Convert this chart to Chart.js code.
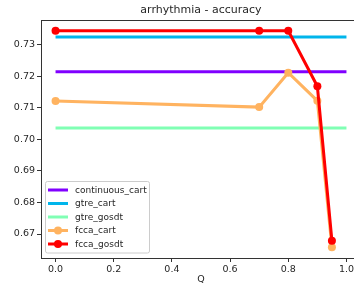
<!DOCTYPE html>
<html>
<head>
<meta charset="utf-8">
<script src="https://cdn.jsdelivr.net/npm/chart.js@4/dist/chart.umd.min.js"></script>
<style>
  html, body { margin: 0; padding: 0; background: #fff; overflow: hidden; }
  #wrap { width: 372px; height: 288px; }
</style>
</head>
<body>
<div id="wrap"><canvas id="chart" width="372" height="288"></canvas></div>
<script>
'use strict';

// ── Data ────────────────────────────────────────────────
const TITLE = 'arrhythmia - accuracy';
const X_LABEL = 'Q';

const xTicks = [0.0, 0.2, 0.4, 0.6, 0.8, 1.0];
const yTicks = [0.67, 0.68, 0.69, 0.70, 0.71, 0.72, 0.73];

// baselines (constant over Q)
const baseQ          = [0, 1];
const continuousCart = 0.7214;
const gtreCart       = 0.7324;
const gtreGosdt      = 0.7036;

// fcca runs
const fccaQ     = [0, 0.7, 0.8, 0.9, 0.95];
const fccaCart  = [0.7121, 0.7102, 0.7211, 0.7122, 0.6658];
const fccaGosdt = [0.7344, 0.7344, 0.7344, 0.7168, 0.6679];

const COLORS = {
  continuous_cart: '#8000ff',
  gtre_cart:       '#00b5eb',
  gtre_gosdt:      '#80ffb4',
  fcca_cart:       '#ffb360',
  fcca_gosdt:      '#ff0000',
};

const TEXT = '#262626';
const FONT = "'DejaVu Sans', sans-serif";

// ── Helpers ─────────────────────────────────────────────
function flat(label, v, order) {
  return {
    label,
    data: baseQ.map(q => ({ x: q, y: v })),
    borderColor: COLORS[label],
    backgroundColor: COLORS[label],
    borderWidth: 3,
    pointRadius: 0,
    showLine: true,
    order,
  };
}

function series(label, ys, order) {
  return {
    label,
    data: fccaQ.map((q, i) => ({ x: q, y: ys[i] })),
    borderColor: COLORS[label],
    backgroundColor: COLORS[label],
    pointBackgroundColor: COLORS[label],
    pointBorderColor: COLORS[label],
    borderWidth: 3,
    pointRadius: 4,
    pointBorderWidth: 0,
    showLine: true,
    order,
  };
}

// ── Title, axis label, top spine and in-plot legend ────
const decorPlugin = {
  id: 'decor',
  afterDraw(chart) {
    const { ctx, chartArea: a } = chart;
    const cx = (a.left + a.right) / 2;
    ctx.save();

    // top + right spines
    ctx.strokeStyle = '#333';
    ctx.lineWidth = 1;
    ctx.beginPath();
    ctx.moveTo(a.left, a.top + 0.5);
    ctx.lineTo(a.right + 0.5, a.top + 0.5);
    ctx.lineTo(a.right + 0.5, a.bottom);
    ctx.stroke();

    ctx.fillStyle = TEXT;
    ctx.textAlign = 'center';
    ctx.textBaseline = 'middle';
    ctx.font = '11px ' + FONT;
    ctx.fillText(TITLE, cx, 10);
    ctx.font = '9.5px ' + FONT;
    ctx.fillText(X_LABEL, cx, 280);

    // legend box
    const bx = 45.5, by = 181.5, bw = 104, bh = 71.5;
    ctx.fillStyle = 'rgba(255,255,255,0.8)';
    ctx.strokeStyle = '#cccccc';
    ctx.lineWidth = 1;
    ctx.beginPath();
    ctx.roundRect(bx, by, bw, bh, 2);
    ctx.fill();
    ctx.stroke();

    ctx.font = '9px ' + FONT;
    ctx.textAlign = 'left';
    chart.data.datasets.forEach((d, i) => {
      const y = 190 + i * 13.5;
      ctx.strokeStyle = d.borderColor;
      ctx.lineWidth = 3;
      ctx.beginPath();
      ctx.moveTo(48, y);
      ctx.lineTo(68, y);
      ctx.stroke();
      if (d.pointRadius > 0) {
        ctx.fillStyle = d.borderColor;
        ctx.beginPath();
        ctx.arc(58, y, 4, 0, Math.PI * 2);
        ctx.fill();
      }
      ctx.fillStyle = TEXT;
      ctx.fillText(d.label, 75, y + 0.5);
    });
    ctx.restore();
  },
};

// ── Chart ───────────────────────────────────────────────
const axisCommon = {
  border: { color: '#333', width: 1 },
  grid: { drawOnChartArea: false, drawTicks: true, tickLength: 4, color: '#333', tickWidth: 1 },
};

new Chart(document.getElementById('chart').getContext('2d'), {
  type: 'scatter',
  data: {
    datasets: [
      flat('continuous_cart', continuousCart, 4),
      flat('gtre_cart', gtreCart, 3),
      flat('gtre_gosdt', gtreGosdt, 2),
      series('fcca_cart', fccaCart, 1),
      series('fcca_gosdt', fccaGosdt, 0),
    ],
  },
  plugins: [decorPlugin],
  options: {
    responsive: false,
    animation: false,
    layout: { padding: { top: 20, right: 11, left: 0, bottom: 0 } },
    plugins: {
      legend: { display: false },
      title: { display: false },
      tooltip: { enabled: false },
    },
    scales: {
      x: {
        ...axisCommon,
        type: 'linear',
        min: -0.05,
        max: 1.05,
        afterBuildTicks: s => { s.ticks = xTicks.map(v => ({ value: v })); },
        afterFit: s => { s.height = 30; },
        ticks: {
          padding: 2,
          color: TEXT,
          font: { family: FONT, size: 9.5 },
          callback: v => Number(v).toFixed(1),
          maxRotation: 0,
        },
      },
      y: {
        ...axisCommon,
        type: 'linear',
        min: 0.6624,
        max: 0.7378,
        afterBuildTicks: s => { s.ticks = yTicks.map(v => ({ value: v })); },
        afterFit: s => { s.width = 41; },
        ticks: {
          padding: 2,
          color: TEXT,
          font: { family: FONT, size: 9.5 },
          callback: v => Number(v).toFixed(2),
        },
      },
    },
  },
});
</script>
</body>
</html>
